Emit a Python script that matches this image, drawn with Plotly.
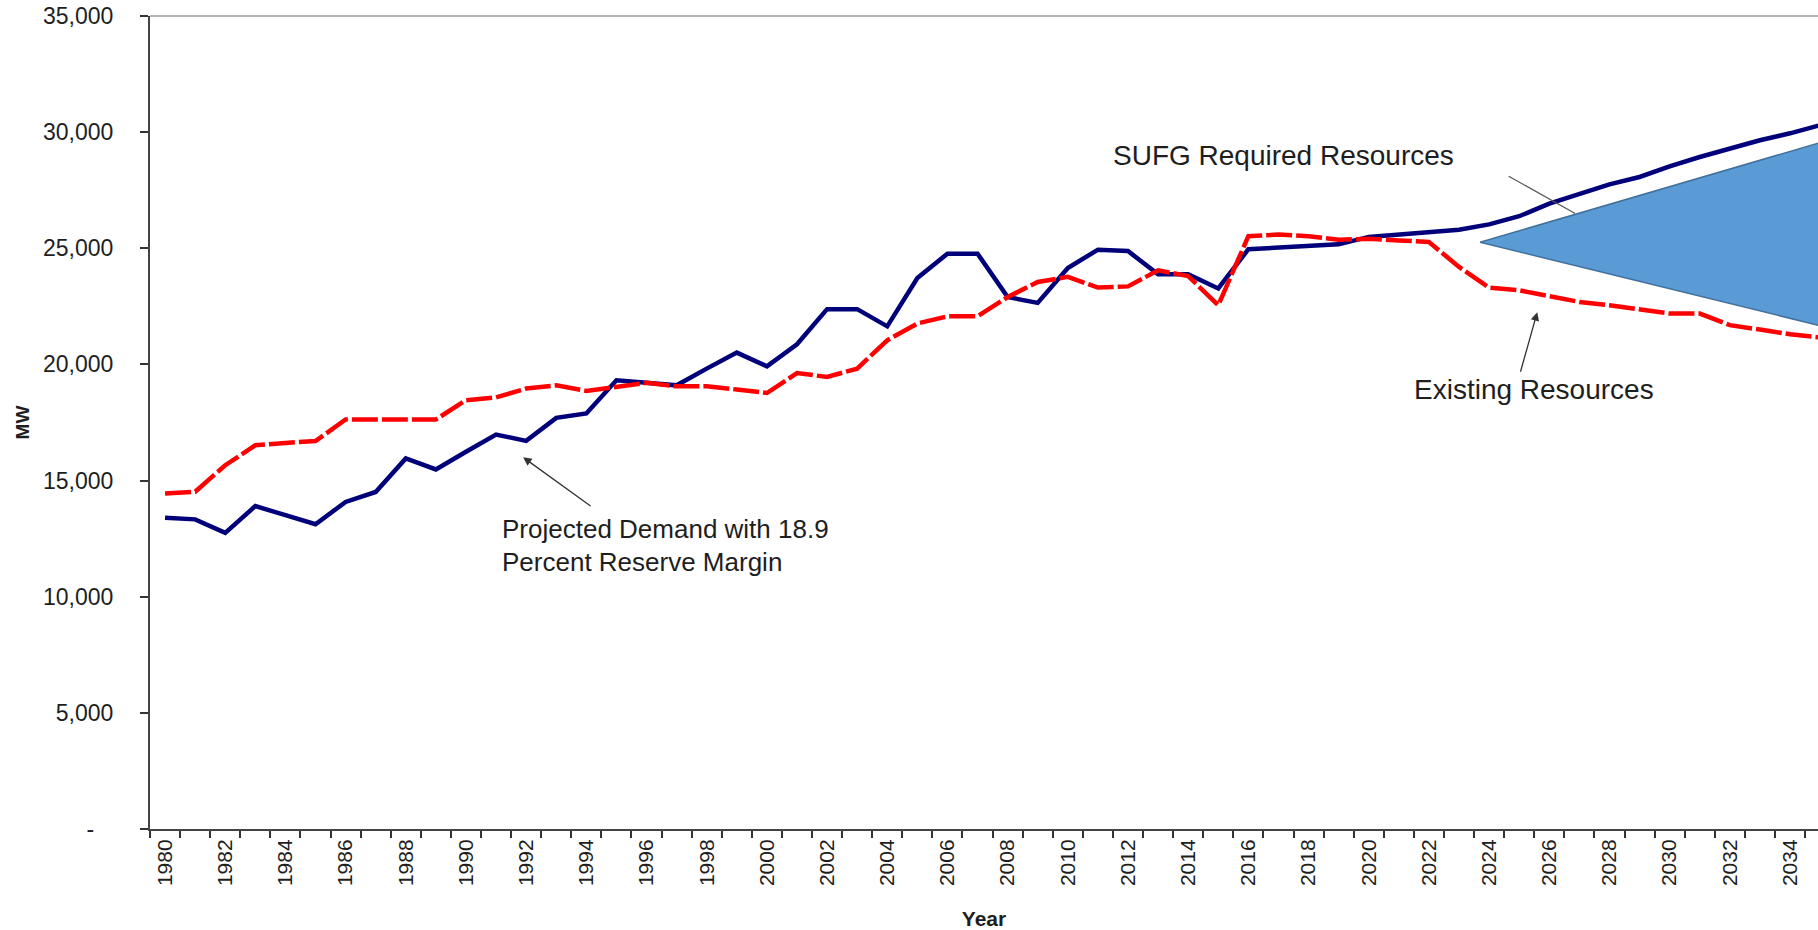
import plotly.graph_objects as go

# ---------------- data ----------------
years = list(range(1980, 2036))

demand_mw = [13400, 13330, 12750, 13900, 13510, 13120, 14080, 14510, 15950, 15480,
             16240, 16980, 16710, 17700, 17890, 19320, 19210, 19100, 19820, 20510,
             19920, 20870, 22380, 22380, 21640, 23720, 24770, 24770, 22900, 22650,
             24150, 24940, 24880, 23880, 23880, 23270, 24960, 25030, 25100, 25170,
             25490, 25590, 25680, 25800, 26030, 26380, 26920, 27350, 27750, 28070,
             28530, 28930, 29290, 29650, 29950, 30300]

existing_mw = [14440, 14520, 15660, 16520, 16620, 16700, 17630, 17630, 17630, 17630,
               18460, 18580, 18960, 19100, 18860, 19030, 19210, 19060, 19060, 18920,
               18770, 19630, 19460, 19820, 21040, 21760, 22070, 22070, 22900, 23550,
               23770, 23310, 23360, 24050, 23800, 22550, 25520, 25590, 25520, 25370,
               25410, 25340, 25270, 24200, 23310, 23190, 22930, 22690, 22550, 22360,
               22190, 22190, 21690, 21500, 21300, 21160]

# wedge showing the gap between required and existing resources
wedge_x = [2023.7, 2036.0, 2036.0, 2023.7]
wedge_y = [25260, 29930, 21350, 25260]

y_tick_vals = [0, 5000, 10000, 15000, 20000, 25000, 30000, 35000]
y_tick_text = ["-\u00a0\u00a0\u00a0", "5,000", "10,000", "15,000", "20,000",
               "25,000", "30,000", "35,000"]
x_label_years = list(range(1980, 2035, 2))
x_label_text = [str(y) for y in x_label_years]
x_boundaries = [y - 0.5 for y in years]

FONT = "Liberation Sans, Arial, sans-serif"
TXT = "#1e1e1e"
ANN = 28

fig = go.Figure()

fig.add_trace(go.Scatter(
    x=wedge_x, y=wedge_y, mode="lines", fill="toself",
    fillcolor="#5B9BD5", line=dict(color="#41719C", width=1.5),
    hoverinfo="skip", showlegend=False))

fig.add_trace(go.Scatter(
    x=years, y=demand_mw, mode="lines",
    line=dict(color="#00007A", width=4.5),
    name="Projected Demand", showlegend=False))

fig.add_trace(go.Scatter(
    x=years, y=existing_mw, mode="lines",
    line=dict(color="#FF0000", width=4.5, dash="26px,4px"),
    name="Existing Resources", showlegend=False))

annotations = [
    dict(x=1991.9, y=16000, ax=1994.19, ay=13860, axref="x", ayref="y",
         xref="x", yref="y", text="", showarrow=True, arrowhead=2,
         arrowsize=1.3, arrowwidth=1.3, arrowcolor="#333333"),
    dict(x=2025.6, y=22250, ax=2025.03, ay=19620, axref="x", ayref="y",
         xref="x", yref="y", text="", showarrow=True, arrowhead=2,
         arrowsize=1.3, arrowwidth=1.3, arrowcolor="#333333"),
    dict(x=2026.86, y=26500, ax=2024.6, ay=28140, axref="x", ayref="y",
         xref="x", yref="y", text="", showarrow=True, arrowhead=0,
         arrowwidth=1.2, arrowcolor="#555555"),
    dict(x=2011.44, y=29000, xref="x", yref="y", text="SUFG Required Resources",
         showarrow=False, xanchor="left", yanchor="middle",
         font=dict(family=FONT, size=ANN, color=TXT)),
    dict(x=2021.44, y=18910, xref="x", yref="y", text="Existing Resources",
         showarrow=False, xanchor="left", yanchor="middle",
         font=dict(family=FONT, size=ANN, color=TXT)),
    dict(x=1991.13, y=12900, xref="x", yref="y", text="Projected Demand with 18.9",
         showarrow=False, xanchor="left", yanchor="middle",
         font=dict(family=FONT, size=26, color=TXT)),
    dict(x=1991.13, y=11500, xref="x", yref="y", text="Percent Reserve Margin",
         showarrow=False, xanchor="left", yanchor="middle",
         font=dict(family=FONT, size=26, color=TXT)),
]

fig.update_layout(
    width=1818, height=930,
    margin=dict(l=150, r=0, t=16, b=101),
    paper_bgcolor="white", plot_bgcolor="white",
    font=dict(family=FONT, color=TXT),
    showlegend=False,
    annotations=annotations,
    shapes=[dict(type="line", xref="paper", yref="paper", x0=0, x1=1, y0=1, y1=1,
                 line=dict(color="#9a9a9a", width=1.5))],
    xaxis=dict(
        range=[1979.5, 2034.93], tickmode="array", tickvals=x_label_years,
        ticktext=x_label_text, tickangle=-90, ticks="",
        tickfont=dict(family=FONT, size=21, color=TXT),
        showgrid=False, zeroline=False, showline=True,
        linecolor="#444444", linewidth=2,
        minor=dict(tickmode="array", tickvals=x_boundaries, ticks="outside",
                   ticklen=7, tickwidth=2, tickcolor="#333333", showgrid=False),
        title=dict(text="<b>Year</b>", standoff=30,
                   font=dict(family=FONT, size=21, color=TXT)),
    ),
    yaxis=dict(
        range=[0, 35000], tickmode="array", tickvals=y_tick_vals,
        ticktext=y_tick_text, ticks="outside", ticklen=8, tickwidth=2,
        tickcolor="#333333", ticklabelstandoff=22,
        tickfont=dict(family=FONT, size=23, color=TXT),
        showgrid=False, zeroline=False, showline=True,
        linecolor="#444444", linewidth=2,
        title=dict(text="<b>MW</b>", standoff=8,
                   font=dict(family=FONT, size=19, color=TXT)),
    ),
)

fig.write_html("out.html", config={"displayModeBar": False},
               post_script="document.body.style.margin='0';")
